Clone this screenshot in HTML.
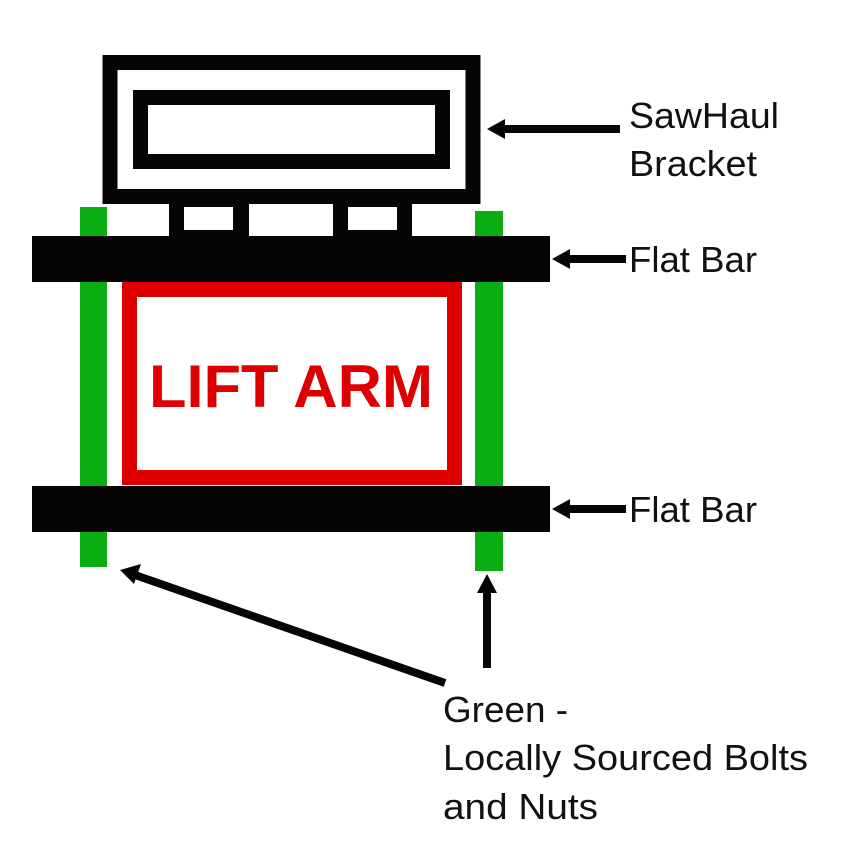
<!DOCTYPE html>
<html><head><meta charset="utf-8"><style>html,body{margin:0;padding:0;background:#fff}svg{display:block}</style></head>
<body>
<svg width="841" height="857" viewBox="0 0 841 857" xmlns="http://www.w3.org/2000/svg">
<rect x="110" y="62.5" width="363" height="134" fill="none" stroke="#050505" stroke-width="15"/>
<rect x="140.5" y="97.5" width="302" height="64" fill="none" stroke="#050505" stroke-width="15"/>
<rect x="169" y="203" width="80" height="36" fill="#050505"/>
<rect x="184" y="207" width="49" height="23" fill="#fff"/>
<rect x="333" y="203" width="79" height="36" fill="#050505"/>
<rect x="348" y="207" width="49" height="23" fill="#fff"/>
<rect x="80" y="207" width="27" height="360" fill="#0aad12"/>
<rect x="475" y="211" width="28" height="360" fill="#0aad12"/>
<rect x="129.5" y="289.5" width="325" height="188" fill="none" stroke="#de0000" stroke-width="15"/>
<text x="291" y="407" text-anchor="middle" font-family="Liberation Sans, sans-serif" font-weight="bold" font-size="60" fill="#de0000" textLength="284" lengthAdjust="spacingAndGlyphs">LIFT ARM</text>
<rect x="32" y="236" width="518" height="46" fill="#050505"/>
<rect x="32" y="486" width="518" height="46" fill="#050505"/>
<g stroke="#050505" stroke-width="8" fill="#050505">
<line x1="620" y1="129" x2="500" y2="129"/>
<line x1="626" y1="259" x2="565" y2="259"/>
<line x1="626" y1="509" x2="565" y2="509"/>
<line x1="445" y1="683" x2="135" y2="575"/>
<line x1="487" y1="668" x2="487" y2="588"/>
</g>
<g fill="#050505">
<polygon points="487,129 505,119 505,139"/>
<polygon points="552,259 570,249 570,269"/>
<polygon points="552,509 570,499 570,519"/>
<polygon points="120,570 141,564 134,584"/>
<polygon points="487,574 477,593 497,593"/>
</g>
<g font-family="Liberation Sans, sans-serif" font-size="36" fill="#111">
<text x="629" y="128" textLength="150" lengthAdjust="spacingAndGlyphs">SawHaul</text>
<text x="629" y="176" textLength="128" lengthAdjust="spacingAndGlyphs">Bracket</text>
<text x="629" y="272" textLength="128" lengthAdjust="spacingAndGlyphs">Flat Bar</text>
<text x="629" y="522" textLength="128" lengthAdjust="spacingAndGlyphs">Flat Bar</text>
<text x="443" y="722" textLength="125" lengthAdjust="spacingAndGlyphs">Green -</text>
<text x="443" y="770" textLength="365" lengthAdjust="spacingAndGlyphs">Locally Sourced Bolts</text>
<text x="443" y="819" textLength="155" lengthAdjust="spacingAndGlyphs">and Nuts</text>
</g>
</svg>
</body></html>
